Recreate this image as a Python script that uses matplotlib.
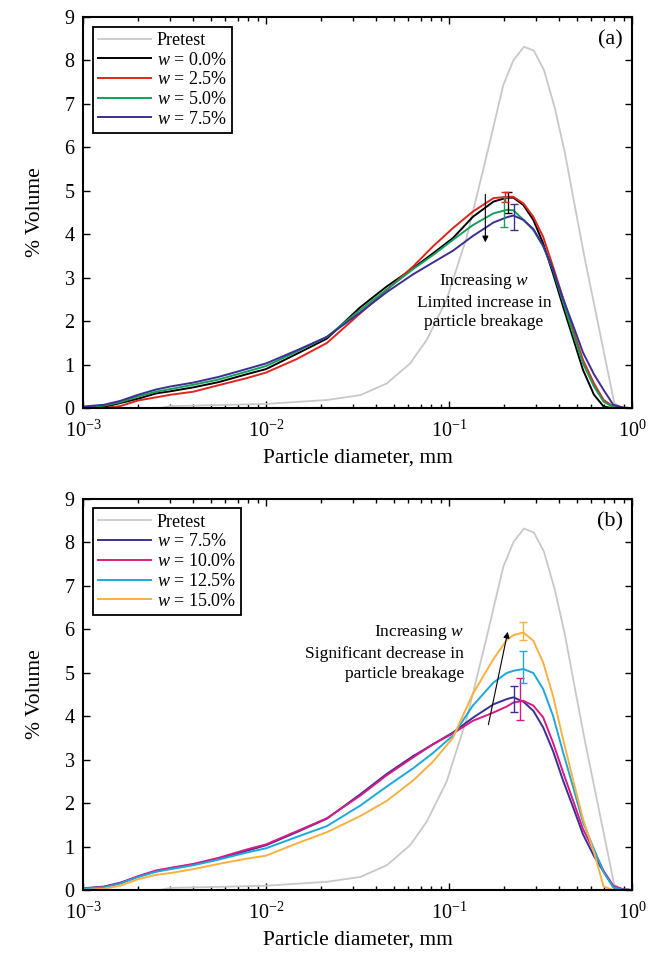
import matplotlib
matplotlib.use("Agg")
import matplotlib.pyplot as plt
from matplotlib.ticker import LogLocator, NullFormatter

plt.rcParams['font.family'] = ['Liberation Serif', 'DejaVu Serif']
plt.rcParams['mathtext.fontset'] = 'custom'
plt.rcParams['mathtext.rm'] = 'Liberation Serif'
plt.rcParams['mathtext.it'] = 'Liberation Serif:italic'

# ---------------- data ----------------
diam = [0.001, 0.0013, 0.0016, 0.002, 0.0025, 0.003, 0.004, 0.0055, 0.0078, 0.01,
        0.0147, 0.0215, 0.0327, 0.0457, 0.0637, 0.0817, 0.105, 0.135, 0.175, 0.207,
        0.225, 0.255, 0.289, 0.327, 0.37, 0.42, 0.48, 0.54, 0.62, 0.70, 0.79, 0.89, 1.0]

pre_diam = [0.0026, 0.003, 0.005, 0.01, 0.0215, 0.0327, 0.0457, 0.0613, 0.0755, 0.097,
            0.125, 0.160, 0.198, 0.225, 0.257, 0.291, 0.330, 0.379, 0.43, 0.488,
            0.554, 0.63, 0.71, 0.80, 0.89, 1.0]
pretest = [0.0, 0.05, 0.07, 0.10, 0.19, 0.30, 0.57, 1.03, 1.57, 2.49,
           3.94, 5.78, 7.43, 8.00, 8.31, 8.22, 7.78, 6.90, 5.87, 4.63,
           3.41, 2.26, 1.19, 0.12, 0.0, 0.0]

w00 = [0.0, 0.03, 0.12, 0.22, 0.34, 0.39, 0.48, 0.60, 0.78, 0.90,
       1.25, 1.60, 2.32, 2.80, 3.22, 3.56, 3.91, 4.40, 4.75, 4.84,
       4.84, 4.67, 4.33, 3.79, 3.10, 2.34, 1.57, 0.88, 0.31, 0.04, 0.0, 0.0, 0.0]
w25 = [0.0, 0.0, 0.05, 0.18, 0.25, 0.31, 0.38, 0.53, 0.69, 0.82,
       1.13, 1.50, 2.18, 2.72, 3.26, 3.72, 4.14, 4.52, 4.83, 4.86,
       4.86, 4.71, 4.40, 3.94, 3.26, 2.53, 1.76, 1.11, 0.57, 0.19, 0.04, 0.01, 0.0]
w50 = [0.02, 0.06, 0.14, 0.27, 0.38, 0.44, 0.54, 0.66, 0.84, 0.97,
       1.30, 1.64, 2.26, 2.73, 3.20, 3.52, 3.87, 4.21, 4.48, 4.56,
       4.55, 4.33, 4.10, 3.72, 3.18, 2.45, 1.68, 1.03, 0.50, 0.15, 0.03, 0.01, 0.0]
w75 = [0.04, 0.08, 0.17, 0.31, 0.43, 0.50, 0.59, 0.72, 0.90, 1.03,
       1.33, 1.64, 2.20, 2.67, 3.08, 3.35, 3.62, 3.96, 4.27, 4.39,
       4.43, 4.33, 4.12, 3.74, 3.20, 2.52, 1.87, 1.28, 0.78, 0.42, 0.08, 0.02, 0.0]
w100 = [0.03, 0.07, 0.16, 0.32, 0.45, 0.51, 0.60, 0.74, 0.93, 1.05,
        1.35, 1.65, 2.17, 2.64, 3.05, 3.35, 3.60, 3.89, 4.08, 4.22,
        4.31, 4.35, 4.24, 3.97, 3.39, 2.71, 2.02, 1.40, 0.90, 0.44, 0.10, 0.02, 0.0]
w125 = [0.03, 0.06, 0.15, 0.30, 0.42, 0.48, 0.57, 0.70, 0.86, 0.96,
        1.22, 1.47, 1.94, 2.38, 2.80, 3.15, 3.55, 4.24, 4.77, 4.99,
        5.04, 5.08, 4.99, 4.62, 4.01, 3.17, 2.32, 1.56, 0.94, 0.41, 0.06, 0.01, 0.0]
w150 = [0.0, 0.03, 0.10, 0.25, 0.35, 0.39, 0.48, 0.60, 0.72, 0.79,
        1.07, 1.33, 1.70, 2.05, 2.52, 2.95, 3.50, 4.51, 5.31, 5.75,
        5.86, 5.92, 5.73, 5.23, 4.47, 3.47, 2.48, 1.63, 0.87, 0.08, 0.0, 0.0, 0.0]

# error bars: (x, centre, half-width)
err_a = {'w00': (0.210, 4.73, 0.25), 'w25': (0.202, 4.86, 0.12),
         'w50': (0.200, 4.51, 0.35), 'w75': (0.226, 4.40, 0.30)}
err_b = {'w75': (0.226, 4.40, 0.30), 'w100': (0.244, 4.39, 0.48),
         'w125': (0.255, 5.13, 0.37), 'w150': (0.255, 5.96, 0.21)}

labels = {'w00': r'$w$ = 0.0%', 'w25': r'$w$ = 2.5%', 'w50': r'$w$ = 5.0%',
          'w75': r'$w$ = 7.5%', 'w100': r'$w$ = 10.0%', 'w125': r'$w$ = 12.5%',
          'w150': r'$w$ = 15.0%'}
series = {'w00': w00, 'w25': w25, 'w50': w50, 'w75': w75,
          'w100': w100, 'w125': w125, 'w150': w150}
colors = {'w00': '#000000', 'w25': '#e2231a', 'w50': '#13a05a', 'w75': '#3b2f96',
          'w100': '#d81b84', 'w125': '#1ba8dc', 'w150': '#fbb040'}
pre_color = '#c8c8c8'

fig = plt.figure(figsize=(6.59, 9.55), dpi=100)
ax_a = fig.add_axes([0.126, 0.5725, 0.833, 0.41])
ax_b = fig.add_axes([0.126, 0.068, 0.833, 0.41])


def setup(ax, keys, errs, tag):
    ax.plot(pre_diam, pretest, color=pre_color, lw=1.3, label='Pretest')
    for k in keys:
        ax.plot(diam, series[k], color=colors[k], lw=1.4, label=labels[k])
    for k in keys:
        x, c, e = errs[k]
        ax.errorbar([x], [c], yerr=[e], fmt='none', ecolor=colors[k],
                    elinewidth=1.0, capsize=3, capthick=1.0)
    ax.set_xscale('log')
    ax.set_xlim(1e-3, 1)
    ax.set_ylim(0, 9)
    ax.set_yticks(range(10))
    ax.xaxis.set_minor_locator(LogLocator(base=10, subs=range(2, 10), numticks=20))
    ax.xaxis.set_minor_formatter(NullFormatter())
    ax.tick_params(which='both', direction='in', top=True, right=True,
                   labelsize=14.5, width=1.0)
    ax.tick_params(axis='x', which='major', pad=9)
    ax.tick_params(axis='y', which='major', pad=6)
    ax.tick_params(which='major', length=5)
    ax.tick_params(which='minor', length=3)
    for s in ax.spines.values():
        s.set_linewidth(1.5)
    ax.set_xlabel('Particle diameter, mm', fontsize=15.5, labelpad=5)
    ax.set_ylabel('% Volume', fontsize=15.5, labelpad=14)
    leg = ax.legend(loc='upper left', bbox_to_anchor=(0.0177, 0.975), borderaxespad=0,
                    fontsize=13, frameon=True, fancybox=False, edgecolor='black',
                    framealpha=1, handlelength=2.9, handletextpad=0.35,
                    labelspacing=0.15, borderpad=0.3)
    leg.get_frame().set_linewidth(1.3)
    ax.text(0.983, 0.94, tag, transform=ax.transAxes, ha='right', va='center',
            fontsize=16)


setup(ax_a, ['w00', 'w25', 'w50', 'w75'], err_a, '(a)')
setup(ax_b, ['w75', 'w100', 'w125', 'w150'], err_b, '(b)')

ax_a.annotate('', xy=(0.158, 3.75), xytext=(0.158, 4.98),
              arrowprops=dict(arrowstyle='-|>', color='black', lw=0.8, mutation_scale=9))
ax_a.text(0.155, 2.46, 'Increasing $w$\nLimited increase in\nparticle breakage',
          ha='center', va='center', fontsize=12.5, linespacing=1.3)

ax_b.annotate('', xy=(0.211, 6.0), xytext=(0.163, 3.74),
              arrowprops=dict(arrowstyle='-|>', color='black', lw=0.8, mutation_scale=9))
ax_b.text(0.121, 5.46, 'Increasing $w$\nSignificant decrease in\nparticle breakage',
          ha='right', va='center', fontsize=12.5, linespacing=1.3)

fig.savefig('out.png', dpi=100)
